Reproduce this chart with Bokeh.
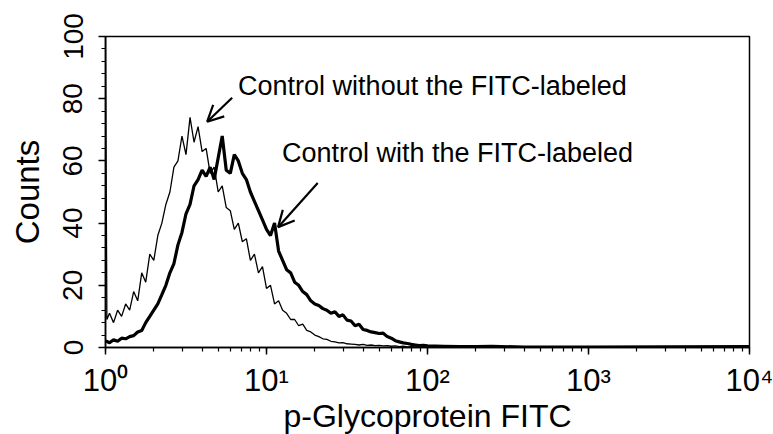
from bokeh.plotting import figure
from bokeh.models import Range1d, LogTicker, SingleIntervalTicker, Arrow, OpenHead, Label
from bokeh.embed import file_html
from bokeh.resources import INLINE

# ---- data ----
fluor = [1.000, 1.02, 1.059, 1.122, 1.189, 1.259, 1.334, 1.413, 1.496, 1.585, 1.679,
         1.778, 1.884, 1.995, 2.113, 2.239, 2.371, 2.512, 2.661, 2.818, 2.985,
         3.162, 3.350, 3.548, 3.758, 3.981, 4.217, 4.467, 4.732, 5.012, 5.309,
         5.623, 5.957, 6.310, 6.683, 7.079, 7.499, 7.943, 8.414, 8.913, 9.441,
         10.00, 10.59, 11.22, 11.89, 12.59, 13.34, 14.13, 14.96, 15.85, 16.79,
         17.78, 18.84, 19.95, 21.13, 22.39, 23.71, 25.12, 26.61, 28.18, 29.85,
         31.62, 33.50, 35.48, 37.58, 39.81, 42.17, 44.67, 47.32, 50.12, 53.09,
         56.23, 59.57, 63.10, 66.83, 70.79, 74.99, 79.43, 84.14, 89.13, 94.41,
         100.0, 125.9, 158.5, 199.5, 251.2, 398.1, 1000.0, 3162.0, 10000.0]

counts_without = [100, 9, 11, 8, 12, 10, 14, 12, 18, 15, 24,
                  21, 30, 28, 36, 40, 46, 50, 58, 60, 68,
                  62, 74, 66, 71, 63, 64, 56, 58, 50, 52,
                  45, 44, 38, 40, 34, 35, 28, 30, 24, 26,
                  19, 20, 14, 15, 12, 11, 9, 9, 7, 7.5,
                  5.5, 5, 4, 3.5, 2.8, 2.6, 2, 1.8, 1.5, 1.6,
                  1.2, 1.1, 1.0, 0.8, 1.0, 0.7, 0.8, 0.6, 0.7, 0.5,
                  0.6, 0.4, 0.5, 0.3, 0.4, 0.2, 0.3, 0.2, 0.1, 0.2,
                  0.1, 0.1, 0, 0, 0, 0, 0, 0, 0]

counts_with = [2, 2, 1.5, 2.5, 2, 3, 2.8, 3.5, 3.8, 5, 5.5,
               8, 10, 12, 14, 17, 20, 24, 27, 33, 37,
               43, 46, 52, 54, 57, 55, 58, 54, 61, 68,
               57, 56, 62, 60, 56, 54, 50, 47, 44, 41,
               38, 36, 40, 31, 28, 25, 24, 21, 20, 18,
               17, 15, 14, 13.5, 12.5, 12, 11, 11.5, 10, 10.5,
               8.8, 8.5, 7, 7.5, 5.8, 5.5, 5, 4.8, 4.5, 4.6,
               3.5, 3, 2.2, 1.8, 1.5, 1.3, 1.0, 0.8, 0.6, 0.7,
               0.5, 0.4, 0.3, 0.3, 0.4, 0.1, 0.1, 0.2, 0.3]

x_tick_labels = {1: "10\u2070", 10: "10\u00b9", 100: "10\u00b2", 1000: "10\u00b3", 10000: "10\u2074"}

ann_texts = ["Control without the FITC-labeled", "Control with the FITC-labeled"]
ann_x = [6.66, 12.47]
ann_y = [84.2, 62.6]
arrow_x_start = [6.12, 20.8]
arrow_y_start = [80.3, 52.9]
arrow_x_end = [4.28, 11.8]
arrow_y_end = [72.6, 38.7]

FONT = "Liberation Sans"

p = figure(frame_width=644, frame_height=311,
           x_axis_type="log", x_range=Range1d(1, 10000), y_range=Range1d(0, 100),
           output_backend="svg", toolbar_location=None,
           min_border_left=105, min_border_right=24, min_border_top=36, min_border_bottom=87,
           x_axis_label="p-Glycoprotein FITC", y_axis_label="Counts")

p.line(fluor, counts_without, line_color="black", line_width=1.3)
p.line(fluor, counts_with, line_color="black", line_width=3.2)

p.xaxis.ticker = LogTicker(num_minor_ticks=10)
p.yaxis.ticker = SingleIntervalTicker(interval=20, num_minor_ticks=5)
p.xaxis.major_label_overrides = x_tick_labels
p.yaxis.major_label_orientation = "vertical"

for ax in (p.xaxis[0], p.yaxis[0]):
    ax.axis_line_color = "black"
    ax.axis_line_width = 1.5
    ax.major_tick_line_color = "black"
    ax.minor_tick_line_color = "black"
    ax.major_tick_line_width = 1.5
    ax.minor_tick_line_width = 1.2
    ax.major_tick_in = 0
    ax.major_tick_out = 7
    ax.minor_tick_in = 0
    ax.minor_tick_out = 4
    ax.major_label_text_font = FONT
    ax.major_label_text_color = "black"
    ax.axis_label_text_font = FONT
    ax.axis_label_text_font_style = "normal"
    ax.axis_label_text_color = "black"

p.xaxis.major_label_text_font_size = "31px"
p.yaxis.major_label_text_font_size = "28px"
p.xaxis.axis_label_text_font_size = "32px"
p.yaxis.axis_label_text_font_size = "33px"
p.xaxis.major_label_standoff = 8
p.xaxis.axis_label_standoff = -3
p.yaxis.major_label_standoff = 16
p.yaxis.axis_label_standoff = 15

p.xgrid.visible = False
p.ygrid.visible = False
p.outline_line_color = "black"
p.outline_line_width = 1.5
p.background_fill_color = "white"
p.border_fill_color = "white"

for t, x, y in zip(ann_texts, ann_x, ann_y):
    p.add_layout(Label(x=x, y=y, text=t, text_font=FONT, text_font_size="27px",
                       text_baseline="middle", text_align="left", text_color="black"))

for xs, ys, xe, ye in zip(arrow_x_start, arrow_y_start, arrow_x_end, arrow_y_end):
    p.add_layout(Arrow(end=OpenHead(size=16, line_width=2.2, line_color="black"),
                       x_start=xs, y_start=ys, x_end=xe, y_end=ye,
                       line_width=2.2, line_color="black"))

open("out.html", "w").write(file_html(p, INLINE))
